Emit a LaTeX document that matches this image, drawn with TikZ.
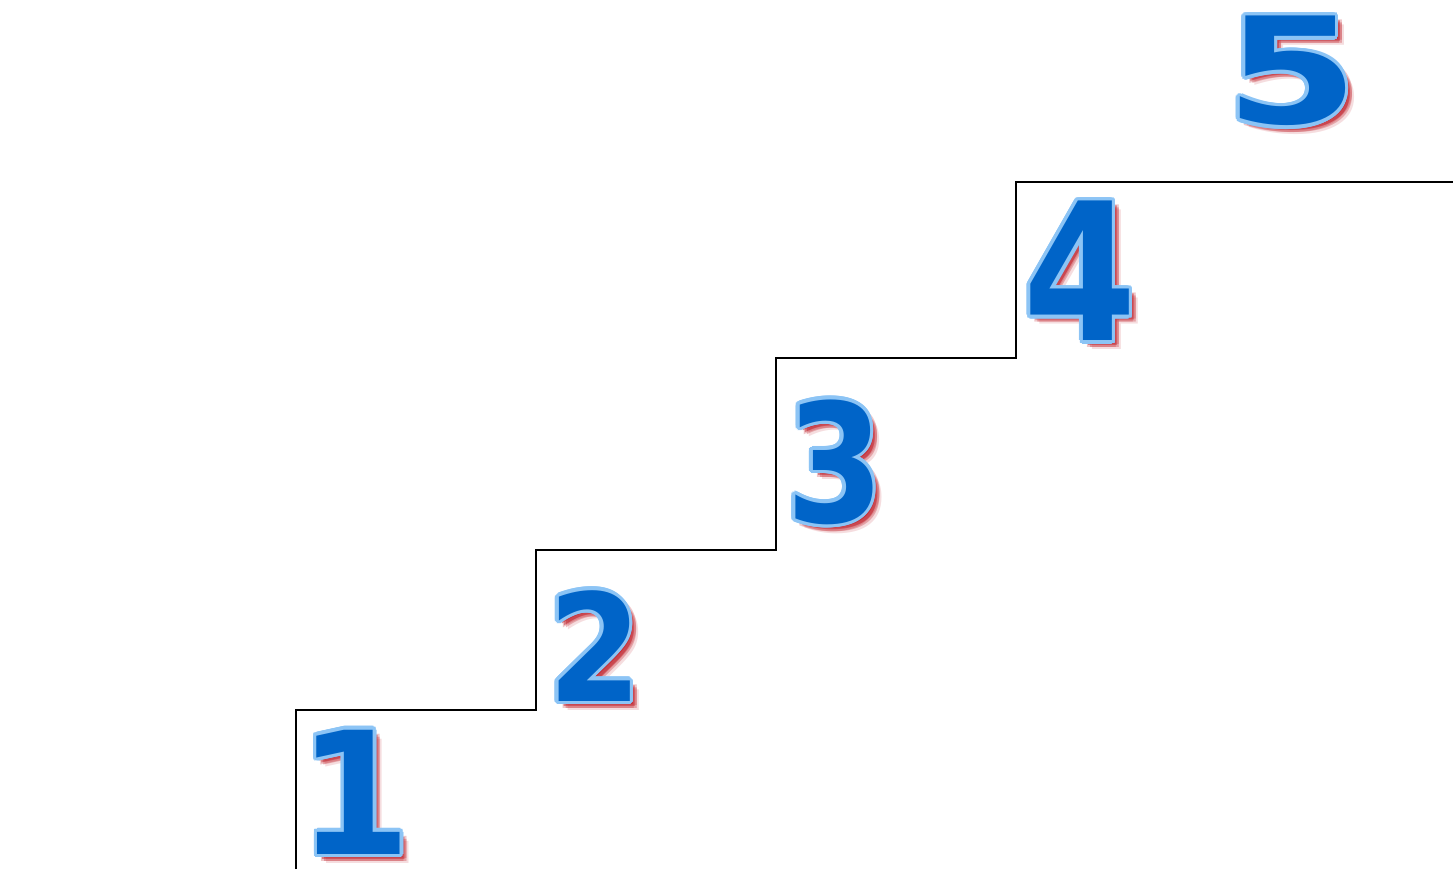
\documentclass[tikz,border=0pt]{standalone}
\usepackage{fontspec}
\newfontfamily\numfont{DejaVu Sans}
\usepackage{xcolor}
\definecolor{numblue}{RGB}{0,100,200}
\definecolor{numedge}{RGB}{140,196,245}
\definecolor{numshadow}{RGB}{190,30,40}
\usetikzlibrary{calc}

% name, position, digit, font size (pt), xscale
\newcommand\stepnum[5]{%
  \foreach \dx/\dy/\op in {3/3/0.5,5/5/0.45,7/7/0.3,9/9/0.15,4/7/0.25,7/4/0.25}
    \node[stepnumber, text=numshadow, opacity=\op, xscale=#5] at ($(#2)+(\dx,\dy)$) {\fontsize{#4}{#4}\selectfont #3};
  \foreach \a in {0,20,...,340}
    \node[stepnumber, text=numedge, xscale=#5] at ($(#2)+(\a:3.5)$) {\fontsize{#4}{#4}\selectfont #3};
  \node[stepnumber, text=numblue, xscale=#5] (#1) at (#2) {\fontsize{#4}{#4}\selectfont #3};
}

\begin{document}
\begin{tikzpicture}[
  x=0.02cm, y=-0.02cm,
  stepnumber/.style={inner sep=0pt, font=\numfont\bfseries, transform shape},
  stair/.style={thick, black}
]
\useasboundingbox (0,0) rectangle (1453,869);

\draw[stair] (296,869) |- (536,710) |- (776,550) |- (1016,358) |- (1453,182);

\stepnum{n1}{355,792}{1}{97}{0.95}
\stepnum{n2}{595,646}{2}{85}{0.9}
\stepnum{n3}{835,462}{3}{94}{0.85}
\stepnum{n4}{1080,271}{4}{109}{0.85}
\stepnum{n5}{1292,71}{5}{84}{1.3}
\end{tikzpicture}
\end{document}
